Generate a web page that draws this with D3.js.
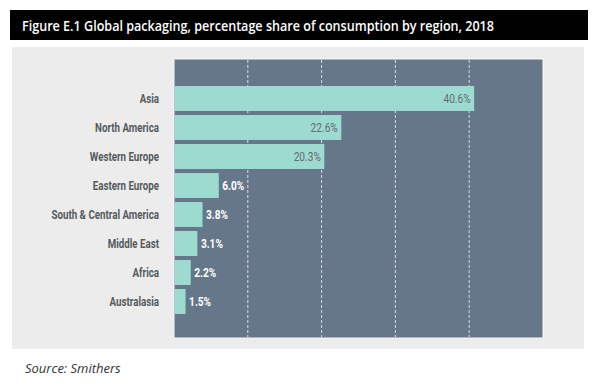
<!DOCTYPE html>
<html><head><meta charset="utf-8">
<script src="https://cdn.jsdelivr.net/npm/d3@7"></script>
<style>
html,body{margin:0;padding:0;background:#fff;}
svg{display:block;}
</style></head>
<body>
<svg id="chart" width="600" height="389"></svg>
<script>
const titleText = "Figure E.1 Global packaging, percentage share of consumption by region, 2018";
const sourceText = "Source: Smithers";
const categories = ["Asia","North America","Western Europe","Eastern Europe","South & Central America","Middle East","Africa","Australasia"];
const values = [40.6, 22.6, 20.3, 6.0, 3.8, 3.1, 2.2, 1.5];
const tickValues = [0, 10, 20, 30, 40, 50];

const svg = d3.select("#chart");
const narrow = "Roboto,'Liberation Sans',sans-serif";

// title bar
svg.append("rect").attr("x",10).attr("y",10).attr("width",578).attr("height",30).attr("fill","#000");
svg.append("text").attr("x",22).attr("y",30.5)
  .attr("fill","#fff").attr("font-family","'Open Sans','Noto Sans',sans-serif")
  .attr("font-weight",600).attr("font-size",15)
  .attr("textLength",472).attr("lengthAdjust","spacingAndGlyphs")
  .text(titleText);

// panel
svg.append("rect").attr("x",12).attr("y",47).attr("width",572).attr("height",302).attr("fill","#ececec");

const x = d3.scaleLinear().domain([0,50]).range([174,543]);
const y = d3.scaleBand().domain(categories).range([84,316]).paddingInner(0.14).paddingOuter(0.07);

// plot area
svg.append("rect").attr("x",x(0)).attr("y",59).attr("width",x(50)-x(0)).attr("height",279)
  .attr("fill","#66778a").attr("stroke","#f8f8f8").attr("stroke-width",1);

// gridlines
svg.append("g").selectAll("line").data(tickValues.slice(1,-1)).join("line")
  .attr("x1",d=>x(d)).attr("x2",d=>x(d)).attr("y1",60).attr("y2",337)
  .attr("stroke","#d8dde2").attr("stroke-width",1).attr("stroke-dasharray","3,2");

// bars
svg.append("g").selectAll("rect").data(values).join("rect")
  .attr("x",x(0)+0.5).attr("y",(d,i)=>y(categories[i]))
  .attr("width",d=>x(d)-x(0)).attr("height",y.bandwidth())
  .attr("fill","#9ddbd1");

// value labels
svg.append("g").selectAll("g").data(values).join("g")
  .attr("transform",(d,i)=>`translate(${d>15 ? x(d)-3 : x(d)+4},${y(categories[i])+y.bandwidth()/2+4.6}) scale(0.78,1)`)
  .append("text")
  .attr("text-anchor",d=> d>15 ? "end" : "start")
  .attr("font-family",narrow).attr("font-size",13)
  .attr("font-weight",d=> d>15 ? 400 : 700)
  .attr("fill",d=> d>15 ? "#666b6f" : "#fff")
  .text(d=>d.toFixed(1)+"%");

// category axis labels
const yAxis = d3.axisLeft(y).tickSize(0).tickPadding(0);
const gy = svg.append("g").attr("transform","translate(159,0)").call(yAxis);
gy.select(".domain").remove();
gy.selectAll("text").attr("font-family",narrow).attr("font-size",13)
  .attr("font-weight",700).attr("fill","#555a5e")
  .attr("dy","0.36em").attr("transform","scale(0.75,1)");

// source
svg.append("text").attr("x",25).attr("y",373)
  .attr("font-family","'Open Sans','Noto Sans',sans-serif").attr("font-style","italic")
  .attr("font-size",13).attr("fill","#333").text(sourceText);
</script>
</body></html>
